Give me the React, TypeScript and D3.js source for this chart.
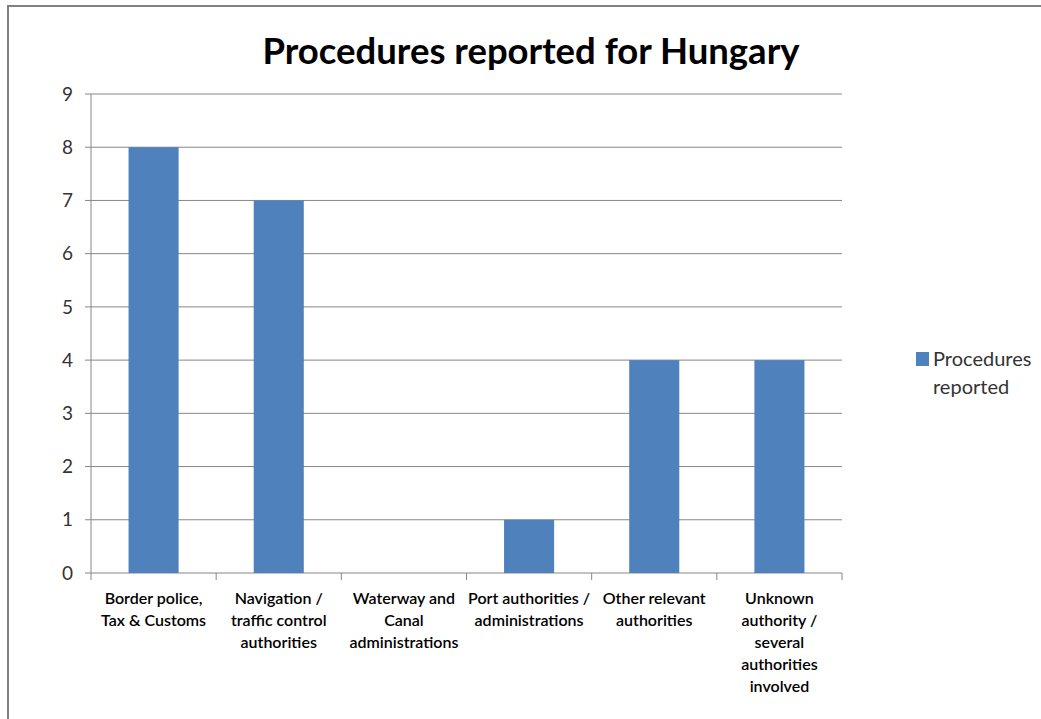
import React from "react";
import * as d3 from "d3";

const categories: string[][] = [
  ["Border police,", "Tax & Customs"],
  ["Navigation /", "traffic control", "authorities"],
  ["Waterway and", "Canal", "administrations"],
  ["Port authorities /", "administrations"],
  ["Other relevant", "authorities"],
  ["Unknown", "authority /", "several", "authorities", "involved"],
];
const values: number[] = [8, 7, 0, 1, 4, 4];
const yTicks: number[] = [0, 1, 2, 3, 4, 5, 6, 7, 8, 9];
const seriesName: string[] = ["Procedures", "reported"];
const title = "Procedures reported for Hungary";

export default function App() {
  const W = 1041, H = 719;
  const left = 91, right = 842, top = 94, bottom = 573;
  const x = d3.scaleBand<number>().domain(d3.range(categories.length)).range([left, right]).paddingInner(0.6).paddingOuter(0.3);
  const band = d3.scaleBand<number>().domain(d3.range(categories.length)).range([left, right]);
  const y = d3.scaleLinear().domain([0, 9]).range([bottom, top]);
  const font = "Lato, 'Open Sans', sans-serif";
  const grid = "#868686";
  return (
    <svg width={W} height={H} style={{ position: "absolute", left: 0, top: 0 }} fontFamily={font}>
      <rect x={0} y={0} width={W} height={H} fill="#fff" />
      <rect x={8} y={6} width={W + 20} height={H + 20} fill="none" stroke="#808080" strokeWidth={2} />
      <text x={531} y={64} textAnchor="middle" fontSize={36} fontWeight={700} fill="#000" textLength={537} lengthAdjust="spacingAndGlyphs">{title}</text>
      {yTicks.map((t) => (
        <g key={t}>
          <line x1={85} x2={right} y1={y(t)} y2={y(t)} stroke={grid} strokeWidth={1} />
          <text x={73} y={y(t)} dy="0.35em" textAnchor="end" fontSize={19} fill="#333">{t}</text>
        </g>
      ))}
      <line x1={left} x2={left} y1={top} y2={bottom} stroke={grid} strokeWidth={1} />
      {d3.range(categories.length + 1).map((i) => {
        const xx = i < categories.length ? band(i)! : right;
        return <line key={i} x1={xx} x2={xx} y1={bottom} y2={bottom + 7} stroke={grid} strokeWidth={1} />;
      })}
      {values.map((v, i) => (
        <rect key={i} x={x(i)!} y={y(v)} width={x.bandwidth()} height={bottom - y(v)} fill="#4F81BD" />
      ))}
      {categories.map((lines, i) => (
        <text key={i} x={band(i)! + band.bandwidth() / 2} y={598} textAnchor="middle" fontSize={16} fill="#000" fontWeight={600}>
          {lines.map((l, j) => (
            <tspan key={j} x={band(i)! + band.bandwidth() / 2} y={598 + j * 22} dy="0.35em">{l}</tspan>
          ))}
        </text>
      ))}
      <rect x={916} y={352} width={13} height={14} fill="#4F81BD" />
      {seriesName.map((s, j) => (
        <text key={j} x={933} y={359 + j * 28} dy="0.35em" fontSize={20} fill="#333">{s}</text>
      ))}
    </svg>
  );
}
